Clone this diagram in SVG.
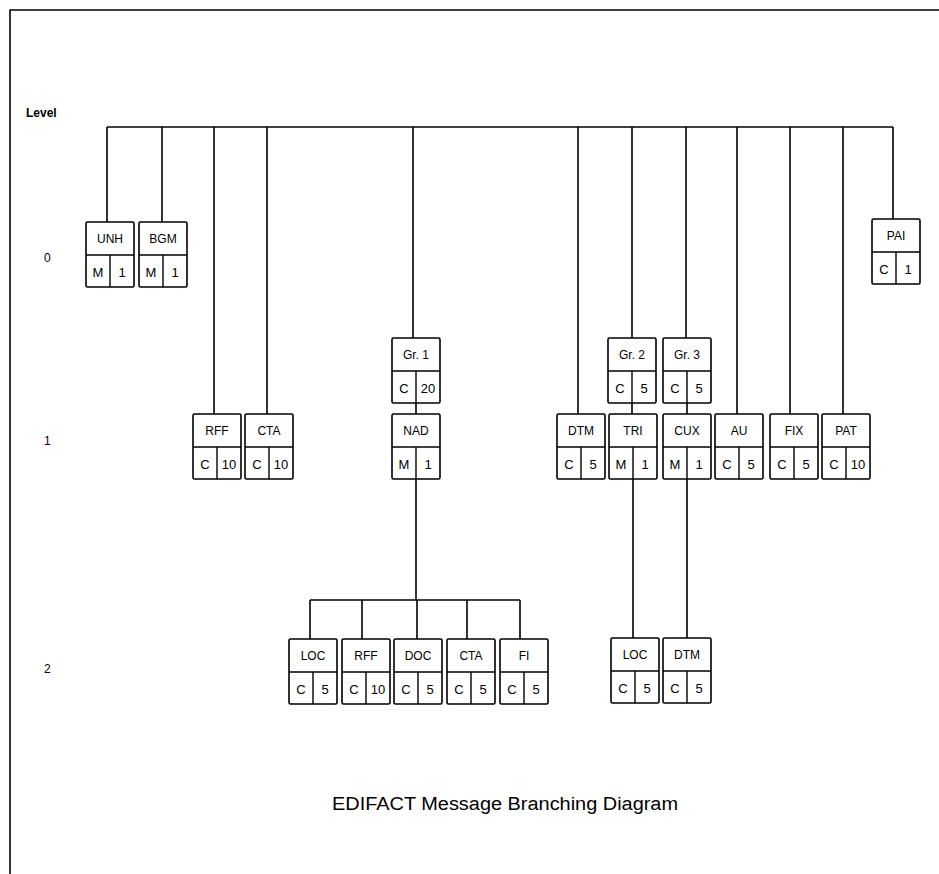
<svg xmlns="http://www.w3.org/2000/svg" width="939" height="874" viewBox="0 0 939 874">
<style>
.b{fill:#fff;stroke:#000;stroke-width:1.6}
.d{stroke:#000;stroke-width:1.4;fill:none}
.c{stroke:#000;stroke-width:1.6;fill:none}
text{font-family:"Liberation Sans",Arial,sans-serif;fill:#000}
.n{font-size:12px;text-anchor:middle}
.v{font-size:13px;text-anchor:middle}
.l{font-size:12px}
</style>
<defs>
<g id="box">
<rect class="b" x="0" y="0" width="48" height="65" rx="1.5"/>
<line class="d" x1="0" y1="33" x2="48" y2="33"/>
<line class="d" x1="24" y1="33" x2="24" y2="65"/>
</g>
</defs>
<rect x="0" y="0" width="939" height="874" fill="#fff"/>
<path class="c" d="M10,874 V10 H939"/>
<text class="l" x="26" y="117" font-weight="bold">Level</text>
<text class="l" x="44" y="262">0</text>
<text class="l" x="44" y="445">1</text>
<text class="l" x="44" y="673">2</text>
<g id="connectors">
<path class="c" d="M107,127 H893"/>
<path class="c" d="M107,127 V222 M162,127 V222 M214,127 V414 M267,127 V414 M413,127 V338 M578,127 V414 M632,127 V338 M686,127 V338 M737,127 V414 M790,127 V414 M843,127 V414 M893,127 V219"/>
<path class="c" d="M416,403 V414 M416,479 V600 M310,600 H520 M310,600 V639 M362,600 V639 M417,600 V639 M467,600 V639 M520,600 V639"/>
<path class="c" d="M632,402 V414 M633,479 V638 M687,402 V414 M687,479 V638"/>
</g>
<g id="UNH"><use href="#box" x="86" y="222"/><text class="n" x="110" y="243">UNH</text><text class="v" x="98" y="277">M</text><text class="v" x="122" y="277">1</text></g>
<g id="BGM"><use href="#box" x="139" y="222"/><text class="n" x="163" y="243">BGM</text><text class="v" x="151" y="277">M</text><text class="v" x="175" y="277">1</text></g>
<g id="PAI"><use href="#box" x="872" y="219"/><text class="n" x="896" y="240">PAI</text><text class="v" x="884" y="274">C</text><text class="v" x="908" y="274">1</text></g>
<g id="Gr1"><use href="#box" x="392" y="338"/><text class="n" x="416" y="359">Gr. 1</text><text class="v" x="404" y="393">C</text><text class="v" x="428" y="393">20</text></g>
<g id="Gr2"><use href="#box" x="608" y="338"/><text class="n" x="632" y="359">Gr. 2</text><text class="v" x="620" y="393">C</text><text class="v" x="644" y="393">5</text></g>
<g id="Gr3"><use href="#box" x="663" y="338"/><text class="n" x="687" y="359">Gr. 3</text><text class="v" x="675" y="393">C</text><text class="v" x="699" y="393">5</text></g>
<g id="RFF1"><use href="#box" x="193" y="414"/><text class="n" x="217" y="435">RFF</text><text class="v" x="205" y="469">C</text><text class="v" x="229" y="469">10</text></g>
<g id="CTA1"><use href="#box" x="245" y="414"/><text class="n" x="269" y="435">CTA</text><text class="v" x="257" y="469">C</text><text class="v" x="281" y="469">10</text></g>
<g id="NAD"><use href="#box" x="392" y="414"/><text class="n" x="416" y="435">NAD</text><text class="v" x="404" y="469">M</text><text class="v" x="428" y="469">1</text></g>
<g id="DTM1"><use href="#box" x="557" y="414"/><text class="n" x="581" y="435">DTM</text><text class="v" x="569" y="469">C</text><text class="v" x="593" y="469">5</text></g>
<g id="TRI"><use href="#box" x="609" y="414"/><text class="n" x="633" y="435">TRI</text><text class="v" x="621" y="469">M</text><text class="v" x="645" y="469">1</text></g>
<g id="CUX"><use href="#box" x="663" y="414"/><text class="n" x="687" y="435">CUX</text><text class="v" x="675" y="469">M</text><text class="v" x="699" y="469">1</text></g>
<g id="AU"><use href="#box" x="715" y="414"/><text class="n" x="739" y="435">AU</text><text class="v" x="727" y="469">C</text><text class="v" x="751" y="469">5</text></g>
<g id="FIX"><use href="#box" x="770" y="414"/><text class="n" x="794" y="435">FIX</text><text class="v" x="782" y="469">C</text><text class="v" x="806" y="469">5</text></g>
<g id="PAT"><use href="#box" x="822" y="414"/><text class="n" x="846" y="435">PAT</text><text class="v" x="834" y="469">C</text><text class="v" x="858" y="469">10</text></g>
<g id="LOC2a"><use href="#box" x="289" y="639"/><text class="n" x="313" y="660">LOC</text><text class="v" x="301" y="694">C</text><text class="v" x="325" y="694">5</text></g>
<g id="RFF2"><use href="#box" x="342" y="639"/><text class="n" x="366" y="660">RFF</text><text class="v" x="354" y="694">C</text><text class="v" x="378" y="694">10</text></g>
<g id="DOC"><use href="#box" x="394" y="639"/><text class="n" x="418" y="660">DOC</text><text class="v" x="406" y="694">C</text><text class="v" x="430" y="694">5</text></g>
<g id="CTA2"><use href="#box" x="447" y="639"/><text class="n" x="471" y="660">CTA</text><text class="v" x="459" y="694">C</text><text class="v" x="483" y="694">5</text></g>
<g id="FI"><use href="#box" x="500" y="639"/><text class="n" x="524" y="660">FI</text><text class="v" x="512" y="694">C</text><text class="v" x="536" y="694">5</text></g>
<g id="LOC2b"><use href="#box" x="611" y="638"/><text class="n" x="635" y="659">LOC</text><text class="v" x="623" y="693">C</text><text class="v" x="647" y="693">5</text></g>
<g id="DTM2"><use href="#box" x="663" y="638"/><text class="n" x="687" y="659">DTM</text><text class="v" x="675" y="693">C</text><text class="v" x="699" y="693">5</text></g>
<text x="332" y="810" font-size="18" textLength="346" lengthAdjust="spacingAndGlyphs">EDIFACT Message Branching Diagram</text>
</svg>
